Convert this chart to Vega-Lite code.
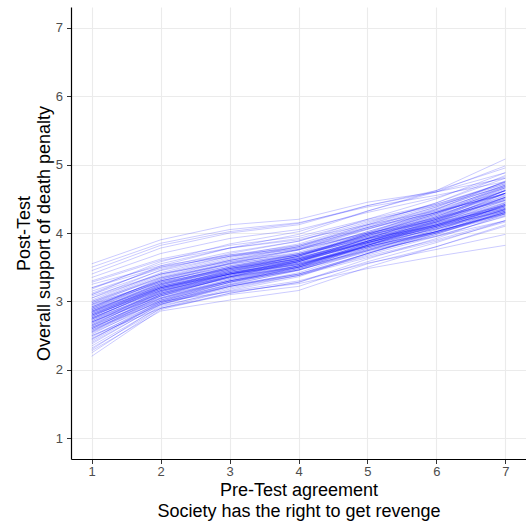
{
"$schema": "https://vega.github.io/schema/vega-lite/v6.json",
"width": 455, "height": 452,
"autosize": {"type": "none"},
"padding": {"left": 71, "top": 7, "right": 0, "bottom": 64},
"background": "white",
"config": {"view": {"stroke": null}, "font": "Liberation Sans"},
"datasets": {"draws": [
{"d":1,"x":1,"y":2.80},{"d":1,"x":2,"y":3.22},{"d":1,"x":3,"y":3.44},{"d":1,"x":4,"y":3.63},{"d":1,"x":5,"y":3.91},{"d":1,"x":6,"y":4.16},{"d":1,"x":7,"y":4.47},
{"d":2,"x":1,"y":2.62},{"d":2,"x":2,"y":3.10},{"d":2,"x":3,"y":3.35},{"d":2,"x":4,"y":3.52},{"d":2,"x":5,"y":3.82},{"d":2,"x":6,"y":4.10},{"d":2,"x":7,"y":4.42},
{"d":3,"x":1,"y":3.05},{"d":3,"x":2,"y":3.40},{"d":3,"x":3,"y":3.60},{"d":3,"x":4,"y":3.75},{"d":3,"x":5,"y":4.00},{"d":3,"x":6,"y":4.22},{"d":3,"x":7,"y":4.48},
{"d":4,"x":1,"y":2.45},{"d":4,"x":2,"y":2.98},{"d":4,"x":3,"y":3.25},{"d":4,"x":4,"y":3.45},{"d":4,"x":5,"y":3.78},{"d":4,"x":6,"y":4.08},{"d":4,"x":7,"y":4.40},
{"d":5,"x":1,"y":2.95},{"d":5,"x":2,"y":3.30},{"d":5,"x":3,"y":3.52},{"d":5,"x":4,"y":3.68},{"d":5,"x":5,"y":3.92},{"d":5,"x":6,"y":4.12},{"d":5,"x":7,"y":4.35},
{"d":6,"x":1,"y":2.70},{"d":6,"x":2,"y":3.12},{"d":6,"x":3,"y":3.38},{"d":6,"x":4,"y":3.58},{"d":6,"x":5,"y":3.88},{"d":6,"x":6,"y":4.18},{"d":6,"x":7,"y":4.52},
{"d":7,"x":1,"y":2.88},{"d":7,"x":2,"y":3.25},{"d":7,"x":3,"y":3.48},{"d":7,"x":4,"y":3.64},{"d":7,"x":5,"y":3.90},{"d":7,"x":6,"y":4.12},{"d":7,"x":7,"y":4.38},
{"d":8,"x":1,"y":3.20},{"d":8,"x":2,"y":3.55},{"d":8,"x":3,"y":3.78},{"d":8,"x":4,"y":3.92},{"d":8,"x":5,"y":4.18},{"d":8,"x":6,"y":4.40},{"d":8,"x":7,"y":4.68},
{"d":9,"x":1,"y":2.55},{"d":9,"x":2,"y":3.02},{"d":9,"x":3,"y":3.28},{"d":9,"x":4,"y":3.46},{"d":9,"x":5,"y":3.75},{"d":9,"x":6,"y":4.02},{"d":9,"x":7,"y":4.30},
{"d":10,"x":1,"y":2.75},{"d":10,"x":2,"y":3.18},{"d":10,"x":3,"y":3.46},{"d":10,"x":4,"y":3.66},{"d":10,"x":5,"y":3.98},{"d":10,"x":6,"y":4.28},{"d":10,"x":7,"y":4.62},
{"d":11,"x":1,"y":3.55},{"d":11,"x":2,"y":3.90},{"d":11,"x":3,"y":4.12},{"d":11,"x":4,"y":4.20},{"d":11,"x":5,"y":4.45},{"d":11,"x":6,"y":4.60},{"d":11,"x":7,"y":4.80},
{"d":12,"x":1,"y":2.25},{"d":12,"x":2,"y":2.90},{"d":12,"x":3,"y":3.10},{"d":12,"x":4,"y":3.22},{"d":12,"x":5,"y":3.55},{"d":12,"x":6,"y":3.80},{"d":12,"x":7,"y":4.10},
{"d":13,"x":1,"y":2.85},{"d":13,"x":2,"y":3.28},{"d":13,"x":3,"y":3.55},{"d":13,"x":4,"y":3.75},{"d":13,"x":5,"y":4.05},{"d":13,"x":6,"y":4.35},{"d":13,"x":7,"y":4.70},
{"d":14,"x":1,"y":2.65},{"d":14,"x":2,"y":3.05},{"d":14,"x":3,"y":3.30},{"d":14,"x":4,"y":3.48},{"d":14,"x":5,"y":3.76},{"d":14,"x":6,"y":4.00},{"d":14,"x":7,"y":4.28},
{"d":15,"x":1,"y":3.00},{"d":15,"x":2,"y":3.35},{"d":15,"x":3,"y":3.55},{"d":15,"x":4,"y":3.68},{"d":15,"x":5,"y":3.92},{"d":15,"x":6,"y":4.10},{"d":15,"x":7,"y":4.32},
{"d":16,"x":1,"y":2.78},{"d":16,"x":2,"y":3.20},{"d":16,"x":3,"y":3.42},{"d":16,"x":4,"y":3.58},{"d":16,"x":5,"y":3.86},{"d":16,"x":6,"y":4.12},{"d":16,"x":7,"y":4.44},
{"d":17,"x":1,"y":2.40},{"d":17,"x":2,"y":2.95},{"d":17,"x":3,"y":3.22},{"d":17,"x":4,"y":3.42},{"d":17,"x":5,"y":3.74},{"d":17,"x":6,"y":4.05},{"d":17,"x":7,"y":4.40},
{"d":18,"x":1,"y":3.10},{"d":18,"x":2,"y":3.45},{"d":18,"x":3,"y":3.66},{"d":18,"x":4,"y":3.80},{"d":18,"x":5,"y":4.06},{"d":18,"x":6,"y":4.30},{"d":18,"x":7,"y":4.58},
{"d":19,"x":1,"y":2.68},{"d":19,"x":2,"y":3.08},{"d":19,"x":3,"y":3.32},{"d":19,"x":4,"y":3.50},{"d":19,"x":5,"y":3.80},{"d":19,"x":6,"y":4.08},{"d":19,"x":7,"y":4.40},
{"d":20,"x":1,"y":2.92},{"d":20,"x":2,"y":3.32},{"d":20,"x":3,"y":3.58},{"d":20,"x":4,"y":3.76},{"d":20,"x":5,"y":4.06},{"d":20,"x":6,"y":4.34},{"d":20,"x":7,"y":4.66},
{"d":21,"x":1,"y":2.58},{"d":21,"x":2,"y":3.05},{"d":21,"x":3,"y":3.32},{"d":21,"x":4,"y":3.52},{"d":21,"x":5,"y":3.85},{"d":21,"x":6,"y":4.16},{"d":21,"x":7,"y":4.52},
{"d":22,"x":1,"y":2.82},{"d":22,"x":2,"y":3.18},{"d":22,"x":3,"y":3.40},{"d":22,"x":4,"y":3.55},{"d":22,"x":5,"y":3.80},{"d":22,"x":6,"y":4.02},{"d":22,"x":7,"y":4.28},
{"d":23,"x":1,"y":3.30},{"d":23,"x":2,"y":3.62},{"d":23,"x":3,"y":3.82},{"d":23,"x":4,"y":3.95},{"d":23,"x":5,"y":4.20},{"d":23,"x":6,"y":4.42},{"d":23,"x":7,"y":4.72},
{"d":24,"x":1,"y":2.72},{"d":24,"x":2,"y":3.15},{"d":24,"x":3,"y":3.40},{"d":24,"x":4,"y":3.60},{"d":24,"x":5,"y":3.90},{"d":24,"x":6,"y":4.20},{"d":24,"x":7,"y":4.55},
{"d":25,"x":1,"y":2.50},{"d":25,"x":2,"y":2.96},{"d":25,"x":3,"y":3.20},{"d":25,"x":4,"y":3.38},{"d":25,"x":5,"y":3.68},{"d":25,"x":6,"y":3.95},{"d":25,"x":7,"y":4.25},
{"d":26,"x":1,"y":2.98},{"d":26,"x":2,"y":3.38},{"d":26,"x":3,"y":3.62},{"d":26,"x":4,"y":3.80},{"d":26,"x":5,"y":4.10},{"d":26,"x":6,"y":4.38},{"d":26,"x":7,"y":4.72},
{"d":27,"x":1,"y":2.76},{"d":27,"x":2,"y":3.16},{"d":27,"x":3,"y":3.38},{"d":27,"x":4,"y":3.54},{"d":27,"x":5,"y":3.82},{"d":27,"x":6,"y":4.06},{"d":27,"x":7,"y":4.34},
{"d":28,"x":1,"y":2.35},{"d":28,"x":2,"y":2.92},{"d":28,"x":3,"y":3.18},{"d":28,"x":4,"y":3.38},{"d":28,"x":5,"y":3.70},{"d":28,"x":6,"y":4.00},{"d":28,"x":7,"y":4.35},
{"d":29,"x":1,"y":3.15},{"d":29,"x":2,"y":3.48},{"d":29,"x":3,"y":3.68},{"d":29,"x":4,"y":3.82},{"d":29,"x":5,"y":4.08},{"d":29,"x":6,"y":4.30},{"d":29,"x":7,"y":4.58},
{"d":30,"x":1,"y":2.86},{"d":30,"x":2,"y":3.24},{"d":30,"x":3,"y":3.46},{"d":30,"x":4,"y":3.62},{"d":30,"x":5,"y":3.88},{"d":30,"x":6,"y":4.12},{"d":30,"x":7,"y":4.40},
{"d":31,"x":1,"y":2.60},{"d":31,"x":2,"y":3.08},{"d":31,"x":3,"y":3.36},{"d":31,"x":4,"y":3.58},{"d":31,"x":5,"y":3.92},{"d":31,"x":6,"y":4.24},{"d":31,"x":7,"y":4.62},
{"d":32,"x":1,"y":3.40},{"d":32,"x":2,"y":3.78},{"d":32,"x":3,"y":4.00},{"d":32,"x":4,"y":4.12},{"d":32,"x":5,"y":4.40},{"d":32,"x":6,"y":4.62},{"d":32,"x":7,"y":4.95},
{"d":33,"x":1,"y":2.74},{"d":33,"x":2,"y":3.12},{"d":33,"x":3,"y":3.34},{"d":33,"x":4,"y":3.50},{"d":33,"x":5,"y":3.78},{"d":33,"x":6,"y":4.02},{"d":33,"x":7,"y":4.30},
{"d":34,"x":1,"y":2.90},{"d":34,"x":2,"y":3.30},{"d":34,"x":3,"y":3.52},{"d":34,"x":4,"y":3.68},{"d":34,"x":5,"y":3.96},{"d":34,"x":6,"y":4.22},{"d":34,"x":7,"y":4.52},
{"d":35,"x":1,"y":2.48},{"d":35,"x":2,"y":3.00},{"d":35,"x":3,"y":3.28},{"d":35,"x":4,"y":3.50},{"d":35,"x":5,"y":3.84},{"d":35,"x":6,"y":4.18},{"d":35,"x":7,"y":4.58},
{"d":36,"x":1,"y":2.80},{"d":36,"x":2,"y":3.16},{"d":36,"x":3,"y":3.36},{"d":36,"x":4,"y":3.50},{"d":36,"x":5,"y":3.74},{"d":36,"x":6,"y":3.95},{"d":36,"x":7,"y":4.18},
{"d":37,"x":1,"y":3.02},{"d":37,"x":2,"y":3.42},{"d":37,"x":3,"y":3.66},{"d":37,"x":4,"y":3.84},{"d":37,"x":5,"y":4.14},{"d":37,"x":6,"y":4.44},{"d":37,"x":7,"y":4.80},
{"d":38,"x":1,"y":2.66},{"d":38,"x":2,"y":3.10},{"d":38,"x":3,"y":3.36},{"d":38,"x":4,"y":3.56},{"d":38,"x":5,"y":3.88},{"d":38,"x":6,"y":4.18},{"d":38,"x":7,"y":4.52},
{"d":39,"x":1,"y":2.84},{"d":39,"x":2,"y":3.26},{"d":39,"x":3,"y":3.50},{"d":39,"x":4,"y":3.68},{"d":39,"x":5,"y":3.98},{"d":39,"x":6,"y":4.26},{"d":39,"x":7,"y":4.58},
{"d":40,"x":1,"y":2.30},{"d":40,"x":2,"y":2.94},{"d":40,"x":3,"y":3.15},{"d":40,"x":4,"y":3.30},{"d":40,"x":5,"y":3.56},{"d":40,"x":6,"y":3.76},{"d":40,"x":7,"y":3.98},
{"d":41,"x":1,"y":3.25},{"d":41,"x":2,"y":3.52},{"d":41,"x":3,"y":3.68},{"d":41,"x":4,"y":3.78},{"d":41,"x":5,"y":4.00},{"d":41,"x":6,"y":4.18},{"d":41,"x":7,"y":4.40},
{"d":42,"x":1,"y":2.70},{"d":42,"x":2,"y":3.14},{"d":42,"x":3,"y":3.40},{"d":42,"x":4,"y":3.60},{"d":42,"x":5,"y":3.92},{"d":42,"x":6,"y":4.22},{"d":42,"x":7,"y":4.58},
{"d":43,"x":1,"y":2.94},{"d":43,"x":2,"y":3.28},{"d":43,"x":3,"y":3.48},{"d":43,"x":4,"y":3.62},{"d":43,"x":5,"y":3.86},{"d":43,"x":6,"y":4.08},{"d":43,"x":7,"y":4.34},
{"d":44,"x":1,"y":2.56},{"d":44,"x":2,"y":3.04},{"d":44,"x":3,"y":3.30},{"d":44,"x":4,"y":3.50},{"d":44,"x":5,"y":3.82},{"d":44,"x":6,"y":4.12},{"d":44,"x":7,"y":4.48},
{"d":45,"x":1,"y":2.88},{"d":45,"x":2,"y":3.30},{"d":45,"x":3,"y":3.56},{"d":45,"x":4,"y":3.76},{"d":45,"x":5,"y":4.08},{"d":45,"x":6,"y":4.38},{"d":45,"x":7,"y":4.75},
{"d":46,"x":1,"y":2.76},{"d":46,"x":2,"y":3.18},{"d":46,"x":3,"y":3.42},{"d":46,"x":4,"y":3.60},{"d":46,"x":5,"y":3.88},{"d":46,"x":6,"y":4.14},{"d":46,"x":7,"y":4.45},
{"d":47,"x":1,"y":3.08},{"d":47,"x":2,"y":3.40},{"d":47,"x":3,"y":3.58},{"d":47,"x":4,"y":3.70},{"d":47,"x":5,"y":3.94},{"d":47,"x":6,"y":4.14},{"d":47,"x":7,"y":4.38},
{"d":48,"x":1,"y":2.42},{"d":48,"x":2,"y":2.98},{"d":48,"x":3,"y":3.26},{"d":48,"x":4,"y":3.48},{"d":48,"x":5,"y":3.82},{"d":48,"x":6,"y":4.14},{"d":48,"x":7,"y":4.52},
{"d":49,"x":1,"y":2.82},{"d":49,"x":2,"y":3.24},{"d":49,"x":3,"y":3.48},{"d":49,"x":4,"y":3.66},{"d":49,"x":5,"y":3.96},{"d":49,"x":6,"y":4.24},{"d":49,"x":7,"y":4.58},
{"d":50,"x":1,"y":2.64},{"d":50,"x":2,"y":3.06},{"d":50,"x":3,"y":3.30},{"d":50,"x":4,"y":3.48},{"d":50,"x":5,"y":3.76},{"d":50,"x":6,"y":4.02},{"d":50,"x":7,"y":4.32},
{"d":51,"x":1,"y":3.50},{"d":51,"x":2,"y":3.85},{"d":51,"x":3,"y":4.05},{"d":51,"x":4,"y":4.15},{"d":51,"x":5,"y":4.38},{"d":51,"x":6,"y":4.55},{"d":51,"x":7,"y":4.75},
{"d":52,"x":1,"y":2.20},{"d":52,"x":2,"y":2.88},{"d":52,"x":3,"y":3.12},{"d":52,"x":4,"y":3.28},{"d":52,"x":5,"y":3.62},{"d":52,"x":6,"y":3.92},{"d":52,"x":7,"y":4.28},
{"d":53,"x":1,"y":2.96},{"d":53,"x":2,"y":3.36},{"d":53,"x":3,"y":3.60},{"d":53,"x":4,"y":3.78},{"d":53,"x":5,"y":4.08},{"d":53,"x":6,"y":4.36},{"d":53,"x":7,"y":4.70},
{"d":54,"x":1,"y":2.72},{"d":54,"x":2,"y":3.12},{"d":54,"x":3,"y":3.36},{"d":54,"x":4,"y":3.54},{"d":54,"x":5,"y":3.84},{"d":54,"x":6,"y":4.10},{"d":54,"x":7,"y":4.42},
{"d":55,"x":1,"y":2.86},{"d":55,"x":2,"y":3.20},{"d":55,"x":3,"y":3.40},{"d":55,"x":4,"y":3.54},{"d":55,"x":5,"y":3.78},{"d":55,"x":6,"y":4.00},{"d":55,"x":7,"y":4.26},
{"d":56,"x":1,"y":2.52},{"d":56,"x":2,"y":3.02},{"d":56,"x":3,"y":3.30},{"d":56,"x":4,"y":3.52},{"d":56,"x":5,"y":3.88},{"d":56,"x":6,"y":4.22},{"d":56,"x":7,"y":4.62},
{"d":57,"x":1,"y":3.12},{"d":57,"x":2,"y":3.50},{"d":57,"x":3,"y":3.72},{"d":57,"x":4,"y":3.88},{"d":57,"x":5,"y":4.16},{"d":57,"x":6,"y":4.42},{"d":57,"x":7,"y":4.74},
{"d":58,"x":1,"y":2.78},{"d":58,"x":2,"y":3.22},{"d":58,"x":3,"y":3.48},{"d":58,"x":4,"y":3.68},{"d":58,"x":5,"y":4.00},{"d":58,"x":6,"y":4.30},{"d":58,"x":7,"y":4.66},
{"d":59,"x":1,"y":2.62},{"d":59,"x":2,"y":3.04},{"d":59,"x":3,"y":3.28},{"d":59,"x":4,"y":3.46},{"d":59,"x":5,"y":3.74},{"d":59,"x":6,"y":4.00},{"d":59,"x":7,"y":4.30},
{"d":60,"x":1,"y":2.90},{"d":60,"x":2,"y":3.26},{"d":60,"x":3,"y":3.46},{"d":60,"x":4,"y":3.60},{"d":60,"x":5,"y":3.84},{"d":60,"x":6,"y":4.06},{"d":60,"x":7,"y":4.32},
{"d":61,"x":1,"y":3.35},{"d":61,"x":2,"y":3.70},{"d":61,"x":3,"y":3.92},{"d":61,"x":4,"y":4.05},{"d":61,"x":5,"y":4.30},{"d":61,"x":6,"y":4.52},{"d":61,"x":7,"y":4.82},
{"d":62,"x":1,"y":2.68},{"d":62,"x":2,"y":3.16},{"d":62,"x":3,"y":3.44},{"d":62,"x":4,"y":3.66},{"d":62,"x":5,"y":4.00},{"d":62,"x":6,"y":4.34},{"d":62,"x":7,"y":4.76},
{"d":63,"x":1,"y":2.80},{"d":63,"x":2,"y":3.18},{"d":63,"x":3,"y":3.40},{"d":63,"x":4,"y":3.56},{"d":63,"x":5,"y":3.82},{"d":63,"x":6,"y":4.06},{"d":63,"x":7,"y":4.36},
{"d":64,"x":1,"y":2.46},{"d":64,"x":2,"y":2.96},{"d":64,"x":3,"y":3.22},{"d":64,"x":4,"y":3.40},{"d":64,"x":5,"y":3.70},{"d":64,"x":6,"y":3.98},{"d":64,"x":7,"y":4.30},
{"d":65,"x":1,"y":2.98},{"d":65,"x":2,"y":3.34},{"d":65,"x":3,"y":3.54},{"d":65,"x":4,"y":3.70},{"d":65,"x":5,"y":3.96},{"d":65,"x":6,"y":4.20},{"d":65,"x":7,"y":4.48},
{"d":66,"x":1,"y":2.74},{"d":66,"x":2,"y":3.20},{"d":66,"x":3,"y":3.46},{"d":66,"x":4,"y":3.66},{"d":66,"x":5,"y":3.98},{"d":66,"x":6,"y":4.28},{"d":66,"x":7,"y":4.64},
{"d":67,"x":1,"y":2.58},{"d":67,"x":2,"y":3.00},{"d":67,"x":3,"y":3.22},{"d":67,"x":4,"y":3.38},{"d":67,"x":5,"y":3.64},{"d":67,"x":6,"y":3.88},{"d":67,"x":7,"y":4.16},
{"d":68,"x":1,"y":3.18},{"d":68,"x":2,"y":3.58},{"d":68,"x":3,"y":3.84},{"d":68,"x":4,"y":4.02},{"d":68,"x":5,"y":4.32},{"d":68,"x":6,"y":4.60},{"d":68,"x":7,"y":4.98},
{"d":69,"x":1,"y":2.84},{"d":69,"x":2,"y":3.22},{"d":69,"x":3,"y":3.44},{"d":69,"x":4,"y":3.60},{"d":69,"x":5,"y":3.86},{"d":69,"x":6,"y":4.10},{"d":69,"x":7,"y":4.38},
{"d":70,"x":1,"y":2.38},{"d":70,"x":2,"y":2.96},{"d":70,"x":3,"y":3.24},{"d":70,"x":4,"y":3.46},{"d":70,"x":5,"y":3.82},{"d":70,"x":6,"y":4.16},{"d":70,"x":7,"y":4.58},
{"d":71,"x":1,"y":2.92},{"d":71,"x":2,"y":3.28},{"d":71,"x":3,"y":3.48},{"d":71,"x":4,"y":3.62},{"d":71,"x":5,"y":3.86},{"d":71,"x":6,"y":4.08},{"d":71,"x":7,"y":4.34},
{"d":72,"x":1,"y":2.70},{"d":72,"x":2,"y":3.10},{"d":72,"x":3,"y":3.34},{"d":72,"x":4,"y":3.52},{"d":72,"x":5,"y":3.82},{"d":72,"x":6,"y":4.10},{"d":72,"x":7,"y":4.44},
{"d":73,"x":1,"y":3.05},{"d":73,"x":2,"y":3.46},{"d":73,"x":3,"y":3.70},{"d":73,"x":4,"y":3.88},{"d":73,"x":5,"y":4.20},{"d":73,"x":6,"y":4.50},{"d":73,"x":7,"y":4.88},
{"d":74,"x":1,"y":2.60},{"d":74,"x":2,"y":3.10},{"d":74,"x":3,"y":3.38},{"d":74,"x":4,"y":3.60},{"d":74,"x":5,"y":3.94},{"d":74,"x":6,"y":4.26},{"d":74,"x":7,"y":4.66},
{"d":75,"x":1,"y":2.88},{"d":75,"x":2,"y":3.22},{"d":75,"x":3,"y":3.42},{"d":75,"x":4,"y":3.56},{"d":75,"x":5,"y":3.80},{"d":75,"x":6,"y":4.02},{"d":75,"x":7,"y":4.28},
{"d":76,"x":1,"y":2.54},{"d":76,"x":2,"y":2.98},{"d":76,"x":3,"y":3.22},{"d":76,"x":4,"y":3.40},{"d":76,"x":5,"y":3.70},{"d":76,"x":6,"y":3.98},{"d":76,"x":7,"y":4.32},
{"d":77,"x":1,"y":2.78},{"d":77,"x":2,"y":3.20},{"d":77,"x":3,"y":3.44},{"d":77,"x":4,"y":3.62},{"d":77,"x":5,"y":3.92},{"d":77,"x":6,"y":4.20},{"d":77,"x":7,"y":4.54},
{"d":78,"x":1,"y":3.28},{"d":78,"x":2,"y":3.60},{"d":78,"x":3,"y":3.78},{"d":78,"x":4,"y":3.90},{"d":78,"x":5,"y":4.12},{"d":78,"x":6,"y":4.32},{"d":78,"x":7,"y":4.56},
{"d":79,"x":1,"y":2.66},{"d":79,"x":2,"y":3.12},{"d":79,"x":3,"y":3.40},{"d":79,"x":4,"y":3.62},{"d":79,"x":5,"y":3.96},{"d":79,"x":6,"y":4.28},{"d":79,"x":7,"y":4.68},
{"d":80,"x":1,"y":2.82},{"d":80,"x":2,"y":3.20},{"d":80,"x":3,"y":3.42},{"d":80,"x":4,"y":3.58},{"d":80,"x":5,"y":3.86},{"d":80,"x":6,"y":4.12},{"d":80,"x":7,"y":4.42},
{"d":81,"x":1,"y":2.32},{"d":81,"x":2,"y":2.90},{"d":81,"x":3,"y":3.16},{"d":81,"x":4,"y":3.36},{"d":81,"x":5,"y":3.70},{"d":81,"x":6,"y":4.02},{"d":81,"x":7,"y":4.42},
{"d":82,"x":1,"y":3.00},{"d":82,"x":2,"y":3.40},{"d":82,"x":3,"y":3.64},{"d":82,"x":4,"y":3.82},{"d":82,"x":5,"y":4.12},{"d":82,"x":6,"y":4.40},{"d":82,"x":7,"y":4.74},
{"d":83,"x":1,"y":2.74},{"d":83,"x":2,"y":3.14},{"d":83,"x":3,"y":3.36},{"d":83,"x":4,"y":3.52},{"d":83,"x":5,"y":3.80},{"d":83,"x":6,"y":4.04},{"d":83,"x":7,"y":4.34},
{"d":84,"x":1,"y":2.90},{"d":84,"x":2,"y":3.34},{"d":84,"x":3,"y":3.60},{"d":84,"x":4,"y":3.80},{"d":84,"x":5,"y":4.12},{"d":84,"x":6,"y":4.44},{"d":84,"x":7,"y":4.84},
{"d":85,"x":1,"y":2.62},{"d":85,"x":2,"y":3.02},{"d":85,"x":3,"y":3.24},{"d":85,"x":4,"y":3.40},{"d":85,"x":5,"y":3.66},{"d":85,"x":6,"y":3.90},{"d":85,"x":7,"y":4.18},
{"d":86,"x":1,"y":3.45},{"d":86,"x":2,"y":3.82},{"d":86,"x":3,"y":4.02},{"d":86,"x":4,"y":4.14},{"d":86,"x":5,"y":4.40},{"d":86,"x":6,"y":4.60},{"d":86,"x":7,"y":4.88},
{"d":87,"x":1,"y":2.76},{"d":87,"x":2,"y":3.16},{"d":87,"x":3,"y":3.40},{"d":87,"x":4,"y":3.58},{"d":87,"x":5,"y":3.88},{"d":87,"x":6,"y":4.16},{"d":87,"x":7,"y":4.50},
{"d":88,"x":1,"y":2.44},{"d":88,"x":2,"y":3.00},{"d":88,"x":3,"y":3.28},{"d":88,"x":4,"y":3.50},{"d":88,"x":5,"y":3.86},{"d":88,"x":6,"y":4.20},{"d":88,"x":7,"y":4.62},
{"d":89,"x":1,"y":2.86},{"d":89,"x":2,"y":3.26},{"d":89,"x":3,"y":3.50},{"d":89,"x":4,"y":3.66},{"d":89,"x":5,"y":3.94},{"d":89,"x":6,"y":4.20},{"d":89,"x":7,"y":4.50},
{"d":90,"x":1,"y":2.96},{"d":90,"x":2,"y":3.30},{"d":90,"x":3,"y":3.50},{"d":90,"x":4,"y":3.64},{"d":90,"x":5,"y":3.88},{"d":90,"x":6,"y":4.10},{"d":90,"x":7,"y":4.36},
{"d":91,"x":1,"y":2.28},{"d":91,"x":2,"y":2.86},{"d":91,"x":3,"y":3.02},{"d":91,"x":4,"y":3.16},{"d":91,"x":5,"y":3.50},{"d":91,"x":6,"y":3.80},{"d":91,"x":7,"y":4.12},
{"d":92,"x":1,"y":3.10},{"d":92,"x":2,"y":3.52},{"d":92,"x":3,"y":3.78},{"d":92,"x":4,"y":3.98},{"d":92,"x":5,"y":4.32},{"d":92,"x":6,"y":4.62},{"d":92,"x":7,"y":5.08},
{"d":93,"x":1,"y":2.70},{"d":93,"x":2,"y":3.08},{"d":93,"x":3,"y":3.30},{"d":93,"x":4,"y":3.46},{"d":93,"x":5,"y":3.72},{"d":93,"x":6,"y":3.96},{"d":93,"x":7,"y":4.24},
{"d":94,"x":1,"y":2.80},{"d":94,"x":2,"y":3.24},{"d":94,"x":3,"y":3.50},{"d":94,"x":4,"y":3.70},{"d":94,"x":5,"y":4.02},{"d":94,"x":6,"y":4.32},{"d":94,"x":7,"y":4.68},
{"d":95,"x":1,"y":2.56},{"d":95,"x":2,"y":3.08},{"d":95,"x":3,"y":3.36},{"d":95,"x":4,"y":3.58},{"d":95,"x":5,"y":3.92},{"d":95,"x":6,"y":4.24},{"d":95,"x":7,"y":4.62},
{"d":96,"x":1,"y":3.20},{"d":96,"x":2,"y":3.50},{"d":96,"x":3,"y":3.66},{"d":96,"x":4,"y":3.76},{"d":96,"x":5,"y":3.98},{"d":96,"x":6,"y":4.16},{"d":96,"x":7,"y":4.36},
{"d":97,"x":1,"y":2.84},{"d":97,"x":2,"y":3.20},{"d":97,"x":3,"y":3.40},{"d":97,"x":4,"y":3.54},{"d":97,"x":5,"y":3.80},{"d":97,"x":6,"y":4.02},{"d":97,"x":7,"y":4.30},
{"d":98,"x":1,"y":2.64},{"d":98,"x":2,"y":3.14},{"d":98,"x":3,"y":3.42},{"d":98,"x":4,"y":3.64},{"d":98,"x":5,"y":3.98},{"d":98,"x":6,"y":4.30},{"d":98,"x":7,"y":4.70},
{"d":99,"x":1,"y":2.92},{"d":99,"x":2,"y":3.32},{"d":99,"x":3,"y":3.56},{"d":99,"x":4,"y":3.72},{"d":99,"x":5,"y":4.02},{"d":99,"x":6,"y":4.30},{"d":99,"x":7,"y":4.62},
{"d":100,"x":1,"y":2.50},{"d":100,"x":2,"y":2.90},{"d":100,"x":3,"y":3.12},{"d":100,"x":4,"y":3.28},{"d":100,"x":5,"y":3.58},{"d":100,"x":6,"y":3.86},{"d":100,"x":7,"y":4.18},
{"d":101,"x":1,"y":2.60},{"d":101,"x":2,"y":3.00},{"d":101,"x":3,"y":3.14},{"d":101,"x":4,"y":3.26},{"d":101,"x":5,"y":3.48},{"d":101,"x":6,"y":3.66},{"d":101,"x":7,"y":3.82}
]},
"data": {"name": "draws"},
"mark": {"type": "line", "color": "#0000FF", "opacity": 0.26, "strokeWidth": 0.8},
"encoding": {
  "x": {"field": "x", "type": "quantitative",
        "scale": {"domain": [0.7, 7.3], "nice": false, "zero": false},
        "axis": {"values": [1,2,3,4,5,6,7], "format": "d",
                 "title": ["Pre-Test agreement", "Society has the right to get revenge"],
                 "titleFontSize": 18, "titleFontWeight": "normal", "titleColor": "black", "titlePadding": 3, "titleLineHeight": 20.5,
                 "labelFont": "Liberation Sans", "labelFontSize": 13, "labelColor": "#4d4d4d", "labelPadding": 2,
                 "domainColor": "black", "domainWidth": 1.2, "tickColor": "#333333", "tickSize": 4.5,
                 "gridColor": "#ebebeb", "gridWidth": 1.1}},
  "y": {"field": "y", "type": "quantitative",
        "scale": {"domain": [0.7, 7.3], "nice": false, "zero": false},
        "axis": {"values": [1,2,3,4,5,6,7], "format": "d",
                 "title": ["Post-Test", "Overall support of death penalty"],
                 "titleFontSize": 18, "titleFontWeight": "normal", "titleColor": "black", "titlePadding": 2, "titleLineHeight": 20,
                 "labelFont": "Liberation Sans", "labelFontSize": 13, "labelColor": "#4d4d4d", "labelPadding": 4,
                 "domainColor": "black", "domainWidth": 1.2, "tickColor": "#333333", "tickSize": 4.5,
                 "gridColor": "#ebebeb", "gridWidth": 1.1}},
  "detail": {"field": "d", "type": "nominal"}
}
}
